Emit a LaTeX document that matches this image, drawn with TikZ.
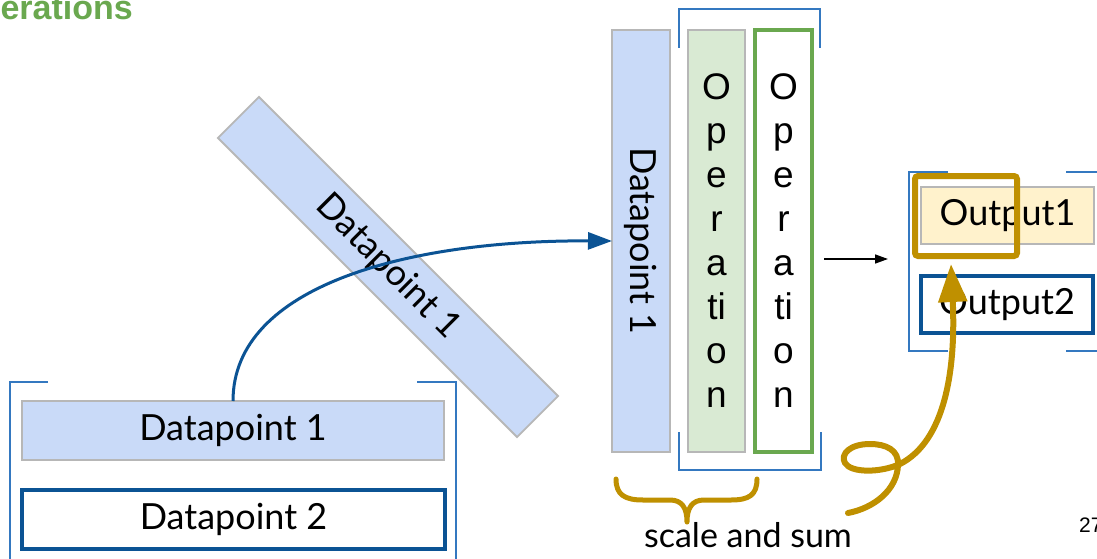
\documentclass[tikz,border=0pt]{standalone}
\usepackage{fontspec}
\setmainfont{Lato}
\newfontfamily\arialf{Liberation Sans}
\usetikzlibrary{arrows.meta}
\definecolor{dpfill}{HTML}{C9DAF8}
\definecolor{opfill}{HTML}{D9EAD3}
\definecolor{outfill}{HTML}{FFF2CC}
\definecolor{grayline}{HTML}{B7B7B7}
\definecolor{darkblue}{HTML}{0B5394}
\definecolor{brblue}{HTML}{3478C0}
\definecolor{gold}{HTML}{BF9000}
\definecolor{green}{HTML}{6AA84F}
\begin{document}
\begin{tikzpicture}[x=1pt,y=1pt,
  base/.style={inner sep=0pt, outer sep=0pt, font=\fontsize{36}{40}\selectfont},
  dpbox/.style={base, draw=grayline, line width=1.8pt, fill=dpfill},
  darkbox/.style={base, draw=darkblue, line width=4pt, fill=white},
  opcol/.style={inner sep=0pt, outer sep=0pt, minimum width=57, minimum height=422, align=center, font=\arialf\fontsize{37}{44}\selectfont},
  bracket/.style={draw=brblue, line width=1.8pt},
  goldline/.style={draw=gold, line width=6pt, line cap=round, line join=round}
]
\useasboundingbox (0,0) rectangle (1097,-559);

% title fragment
\node[anchor=base east, inner sep=0pt, text=green, font=\arialf\bfseries\fontsize{34}{36}\selectfont] (title) at (133,-20) {erations};
% page number fragment
\node[anchor=base west, inner sep=0pt, font=\arialf\fontsize{21}{24}\selectfont] (pnum) at (1079,-532) {27};

% left group bracket
\draw[bracket] (48,-382) -- (10,-382) -- (10,-565);
\draw[bracket] (417,-382) -- (456,-382) -- (456,-565);

% left boxes
\node[dpbox, minimum width=422, minimum height=59] (dp1h) at (233,-430.5) {Datapoint 1};
\node[darkbox, minimum width=423, minimum height=59] (dp2h) at (233.5,-519.5) {Datapoint 2};

% rotated box
\node[dpbox, rotate=-45, minimum width=423, minimum height=58] (dp1r) at (388,-267) {Datapoint 1};

% vertical datapoint column
\node[dpbox, rotate=-90, minimum width=422, minimum height=58] (dp1v) at (641,-241) {Datapoint 1};

% operation columns
\node[opcol, draw=grayline, line width=1.8pt, fill=opfill] (op1) at (716.5,-241) {O\\p\\e\\r\\a\\ti\\o\\n};
\node[opcol, draw=green, line width=3.5pt, fill=white] (op2) at (783.5,-241) {O\\p\\e\\r\\a\\ti\\o\\n};

% brackets around operations
\draw[bracket] (679,-48) -- (679,-9) -- (820,-9) -- (820,-48);
\draw[bracket] (679,-432) -- (679,-470) -- (821,-470) -- (821,-432);

% curved blue arrow
\draw[darkblue, line width=3pt, -{Triangle[length=24pt, width=17pt]}]
  (dp1h.north) .. controls (233,-285) and (410,-240) .. (dp1v.south);

% brace
\draw[goldline, line width=5pt] (616,-479) .. controls (616,-495) and (625,-500) .. (643,-500) -- (670,-500)
  .. controls (682,-500) and (687,-508) .. (687,-522)
  .. controls (687,-508) and (692,-500) .. (704,-500) -- (731,-500)
  .. controls (749,-500) and (757,-495) .. (757,-479);

% scale and sum
\node[base, anchor=base, font=\fontsize{34}{38}\selectfont] (sas) at (748,-547) {scale and sum};

% black arrow
\coordinate (a1) at (824,-259);
\coordinate (a2) at (888,-259);
\draw[line width=1.5pt, -{Triangle[length=13pt, width=9pt]}] (a1) -- (a2);

% output bracket
\draw[bracket] (948,-172) -- (909,-172) -- (909,-351) -- (948,-351);
\draw[bracket] (1066,-172) -- (1103,-172) -- (1103,-351) -- (1066,-351);

% outputs
\node[base, draw=grayline, line width=1.8pt, fill=outfill, minimum width=173, minimum height=57] (out1) at (1007.5,-215.5) {Output1};
\node[darkbox, minimum width=172, minimum height=57] (out2) at (1007,-304.5) {Output2};

% gold square
\node[draw=gold, line width=6pt, rounded corners=3pt, minimum width=102, minimum height=80, inner sep=0pt] (gsq) at (966,-216) {};

% gold loop arrow
\coordinate (lstart) at (848,-513);
\coordinate (ltip) at (951,-264);
\draw[goldline, -{Triangle[length=38pt, width=28pt]}] (lstart)
  .. controls (874,-508) and (897,-490) .. (898,-465)
  .. controls (899,-450) and (886,-444) .. (870,-444)
  .. controls (850,-444) and (840,-454) .. (845,-463)
  .. controls (851,-473) and (880,-473) .. (900,-464)
  .. controls (945,-441) and (956,-370) .. (ltip);
\end{tikzpicture}
\end{document}
